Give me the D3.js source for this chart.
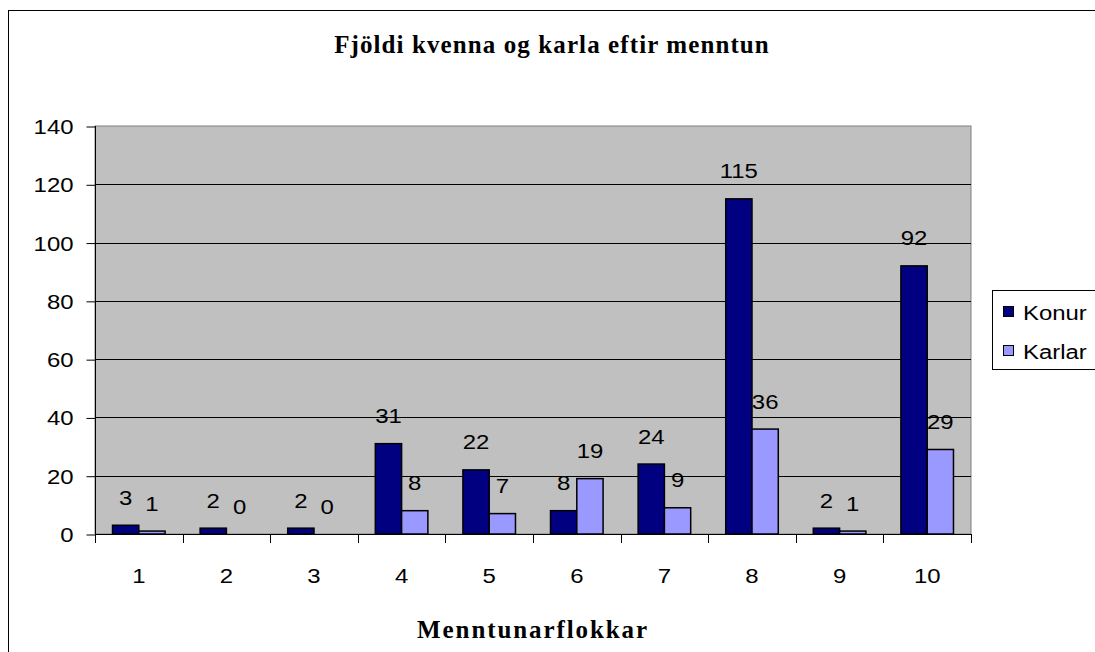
<!DOCTYPE html>
<html><head><meta charset="utf-8">
<script src="https://cdn.jsdelivr.net/npm/d3@7"></script>
<style>body{margin:0;background:#fff}svg{display:block}</style>
</head><body>
<script>
const categories = ["1","2","3","4","5","6","7","8","9","10"];
const konur = [3,2,2,31,22,8,24,115,2,92];
const karlar = [1,0,0,8,7,19,9,36,1,29];
const seriesNames = ["Konur","Karlar"];
const seriesColors = ["#000080","#9999FF"];
const yTicks = [0,20,40,60,80,100,120,140];
const title = "Fjöldi kvenna og karla eftir menntun";
const xTitle = "Menntunarflokkar";

const W=1095,H=652, SX=1.14, FS=21;
const svg=d3.select("body").append("svg").attr("width",W).attr("height",H);
svg.append("rect").attr("x",8.5).attr("y",10.5).attr("width",1200).attr("height",800).attr("fill","#fff").attr("stroke","#000");

const pl=95,pr=971,pt=126,pb=534;
const x=d3.scaleBand().domain(categories).range([pl,pr]).paddingInner(0.4).paddingOuter(0.2);
const xs=d3.scaleBand().domain(seriesNames).range([0,x.bandwidth()]);
const y=d3.scaleLinear().domain([0,140]).range([pb,pt]);
const xCat=d3.scaleBand().domain(categories).range([pl,pr]);

svg.append("rect").attr("x",pl).attr("y",pt).attr("width",pr-pl).attr("height",pb-pt).attr("fill","#C0C0C0").attr("stroke","#808080");

// gridlines
svg.append("g").selectAll("line").data(yTicks.filter(d=>d>0 && d<140)).join("line")
 .attr("x1",pl).attr("x2",pr).attr("y1",d=>Math.round(y(d))+0.5).attr("y2",d=>Math.round(y(d))+0.5).attr("stroke","#000");

const font="'Liberation Sans',Arial,sans-serif";
// y axis
const ya=svg.append("g").attr("transform",`translate(${pl+0.5},0)`).call(d3.axisLeft(y).tickValues(yTicks).tickSize(9));
ya.select(".domain").attr("stroke","#000").attr("d",`M0,${pt}V${pb}`);
ya.selectAll("line").attr("stroke","#000").attr("transform","translate(0,0.5)");
ya.selectAll("text").attr("font-family",font).attr("font-size",FS).attr("fill","#000").attr("dy","0.36em")
 .attr("x",-22/SX).attr("transform",`scale(${SX},1)`);

// x axis
const xa=svg.append("g").attr("transform",`translate(0,${pb+0.5})`).call(d3.axisBottom(xCat).tickSize(0).tickPadding(34));
xa.select(".domain").attr("stroke","#000").attr("d",`M${pl},0H${pr}`);
xa.selectAll("text").attr("font-family",font).attr("font-size",FS).attr("fill","#000").attr("transform",`scale(${SX},1)`);
svg.append("g").selectAll("line").data(d3.range(categories.length+1)).join("line")
 .attr("x1",d=>Math.round(pl+d*xCat.step())+0.5).attr("x2",d=>Math.round(pl+d*xCat.step())+0.5)
 .attr("y1",pb).attr("y2",pb+9).attr("stroke","#000");

// bars
const data=categories.map((c,i)=>({c,vals:[{s:"Konur",v:konur[i],col:seriesColors[0]},{s:"Karlar",v:karlar[i],col:seriesColors[1]}]}));
const g=svg.append("g").selectAll("g").data(data).join("g").attr("transform",d=>`translate(${x(d.c)},0)`);
g.selectAll("rect").data(d=>d.vals.filter(v=>v.v>0)).join("rect")
 .attr("x",d=>xs(d.s)).attr("width",xs.bandwidth()).attr("y",d=>y(d.v)).attr("height",d=>pb-y(d.v))
 .attr("fill",d=>d.col).attr("stroke","#000").attr("stroke-width",1.5);
g.selectAll("text").data(d=>d.vals).join("text")
 .attr("transform",d=>`translate(${xs(d.s)+xs.bandwidth()/2},${y(d.v)-20.5}) scale(${SX},1)`)
 .attr("text-anchor","middle").attr("font-family",font).attr("font-size",FS).text(d=>d.v);

// titles
const serif="'Liberation Serif','Times New Roman',serif";
svg.append("text").attr("x",552).attr("y",53).attr("text-anchor","middle")
 .attr("font-family",serif).attr("font-weight","bold").attr("font-size",25).attr("letter-spacing","1.1px").text(title);
svg.append("text").attr("x",533).attr("y",638).attr("text-anchor","middle")
 .attr("font-family",serif).attr("font-weight","bold").attr("font-size",25).attr("letter-spacing","1.9px").text(xTitle);

// legend
const lg=svg.append("g");
lg.append("rect").attr("x",992.5).attr("y",290.5).attr("width",200).attr("height",79).attr("fill","#fff").attr("stroke","#000");
seriesNames.forEach((s,i)=>{
 const cy=[312,351][i];
 lg.append("rect").attr("x",1003.5).attr("y",cy-5.5).attr("width",10).attr("height",10).attr("fill",seriesColors[i]).attr("stroke","#000");
 lg.append("text").attr("transform",`translate(1023,${cy}) scale(${SX},1)`).attr("dy","0.36em").attr("font-family",font).attr("font-size",FS).text(s);
});
</script>
</body></html>
